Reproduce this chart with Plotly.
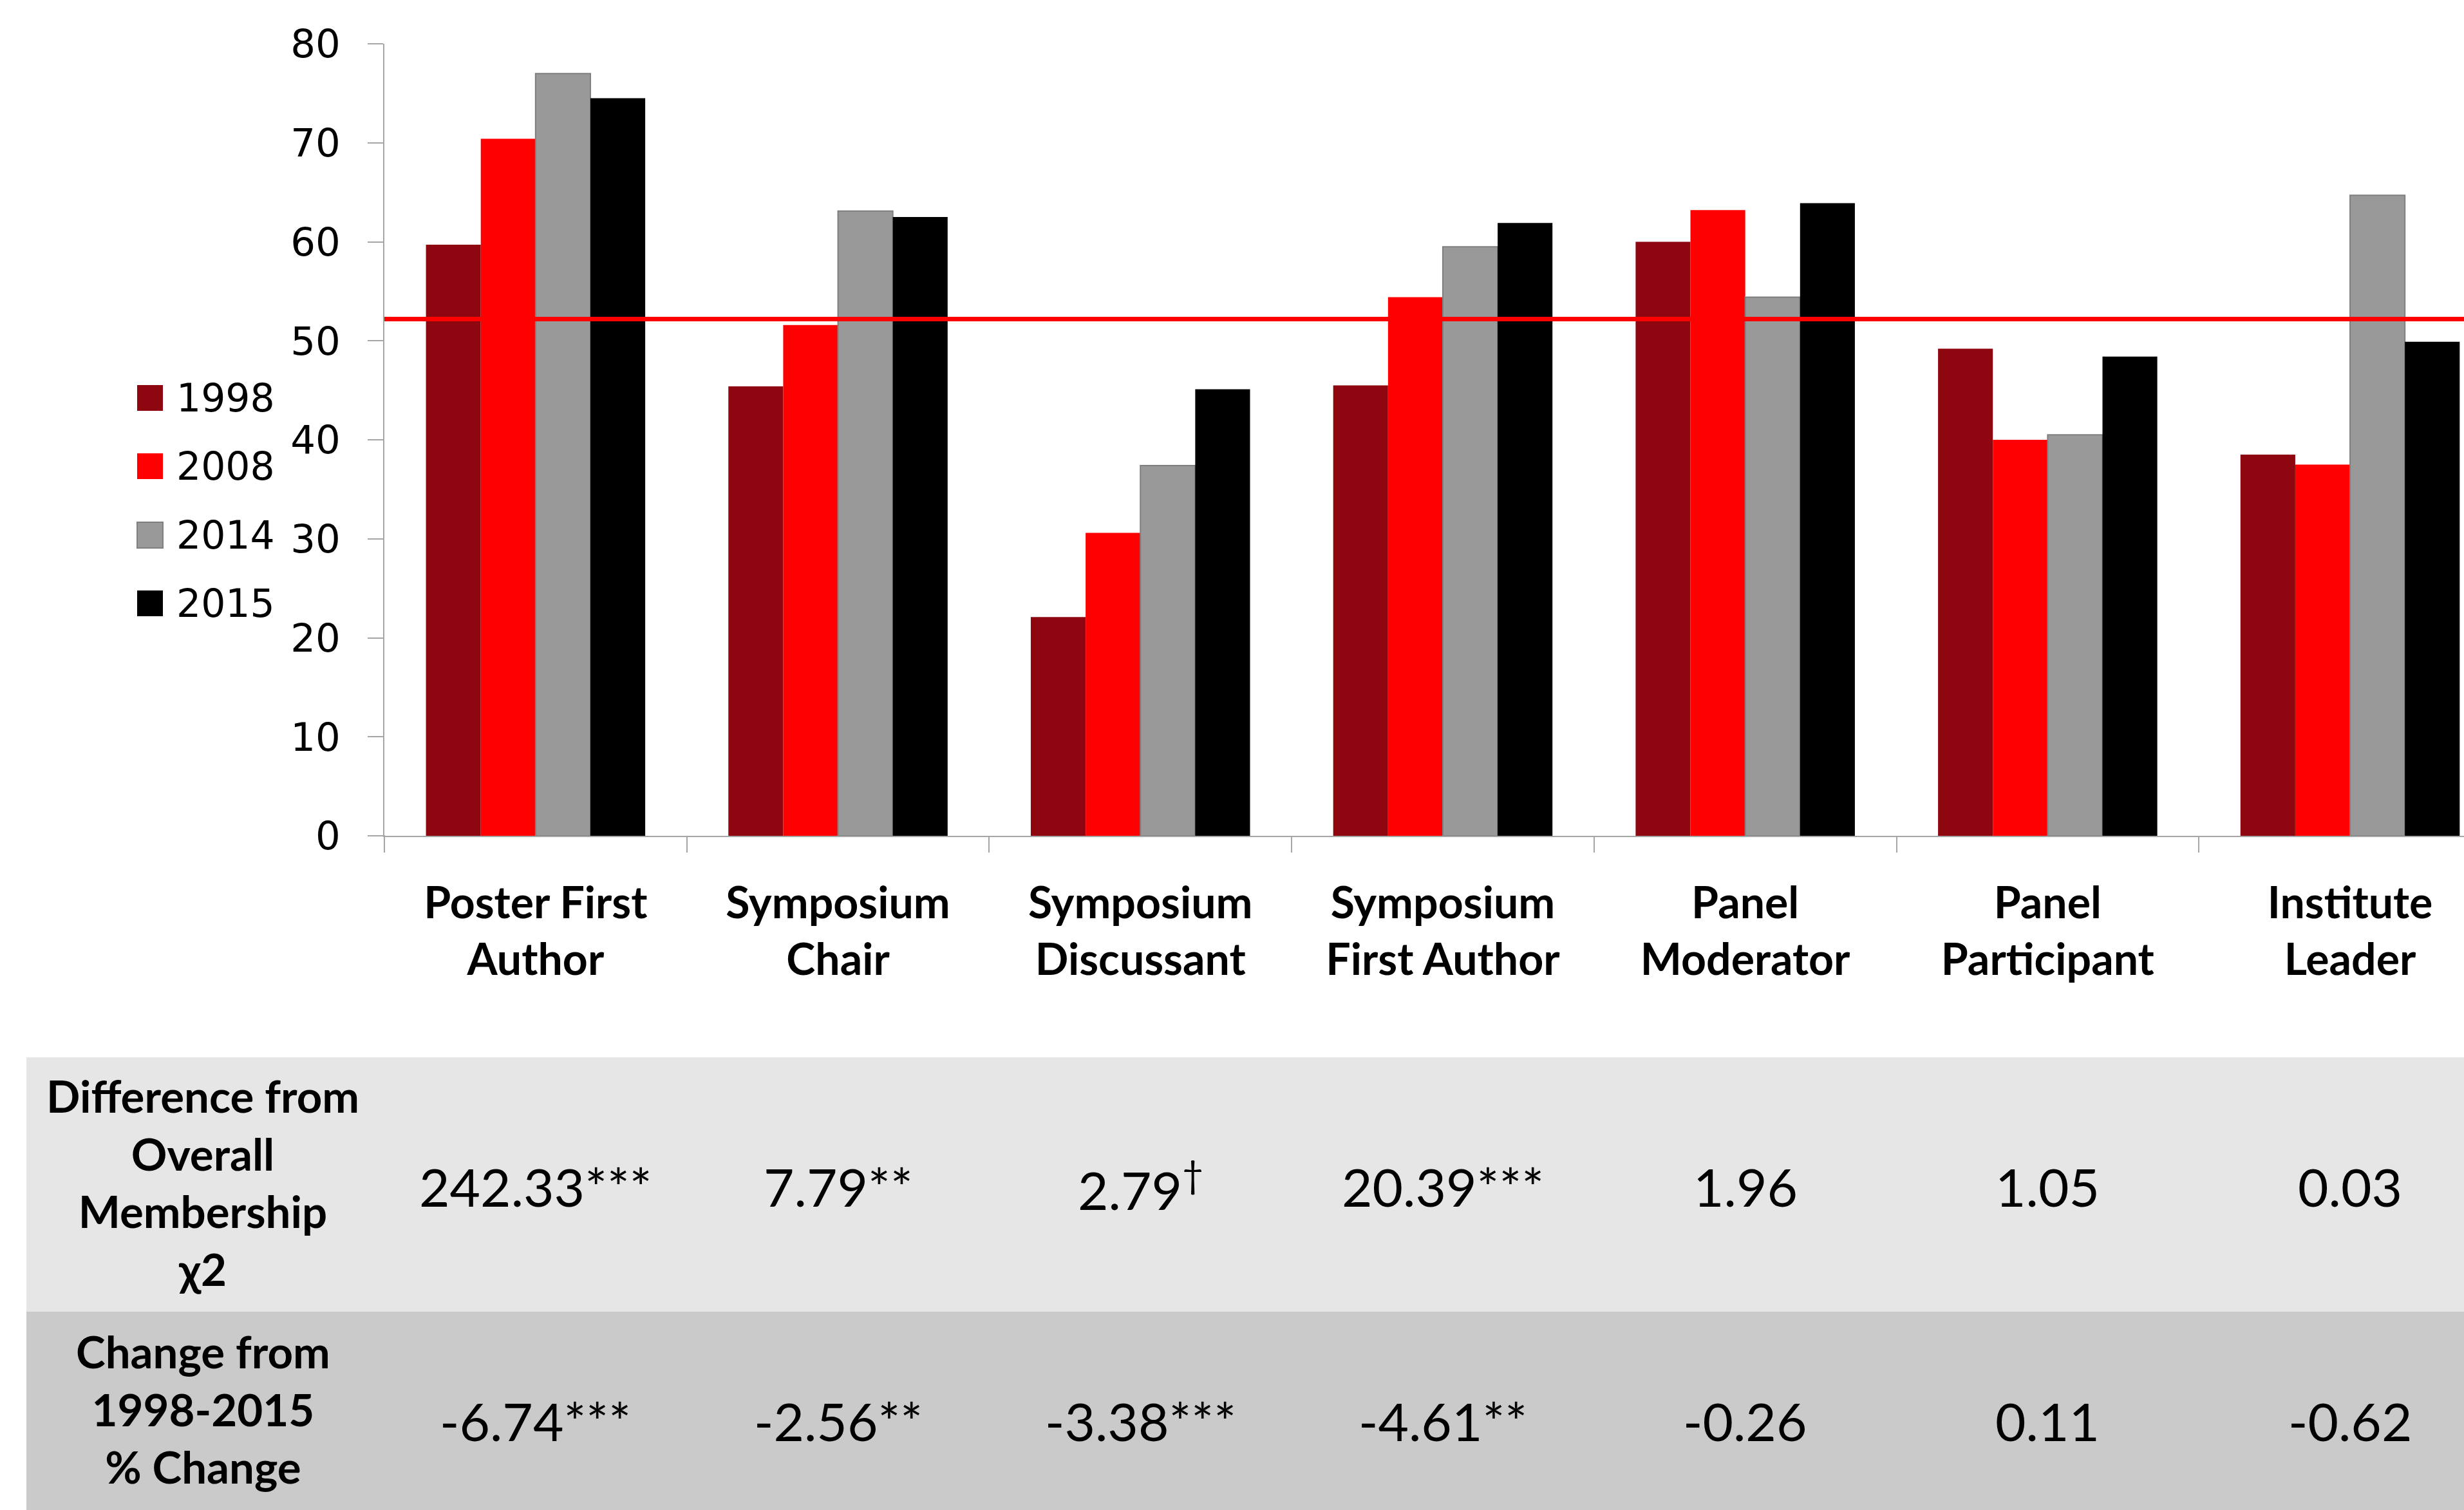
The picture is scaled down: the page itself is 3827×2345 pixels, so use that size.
import plotly.graph_objects as go

# ---------------- data ----------------
categories = [
    "Poster First<br>Author",
    "Symposium<br>Chair",
    "Symposium<br>Discussant",
    "Symposium<br>First Author",
    "Panel<br>Moderator",
    "Panel<br>Participant",
    "Institute<br>Leader",
]
years = ["1998", "2008", "2014", "2015"]
pct_1998 = [59.7, 45.4, 22.1, 45.5, 60.0, 49.2, 38.5]
pct_2008 = [70.4, 51.6, 30.6, 54.4, 63.2, 40.0, 37.5]
pct_2014 = [77.0, 63.1, 37.4, 59.5, 54.4, 40.5, 64.7]
pct_2015 = [74.5, 62.5, 45.1, 61.9, 63.9, 48.4, 49.9]
overall_membership = 52.2
y_ticks = [0, 10, 20, 30, 40, 50, 60, 70, 80]

row_headers = [
    "Difference from<br>Overall<br>Membership<br>χ2",
    "Change from<br>1998-2015<br>% Change",
]
chi2_labels = ["242.33***", "7.79**", "2.79<sup>†</sup>", "20.39***", "1.96", "1.05", "0.03"]
change_labels = ["-6.74***", "-2.56**", "-3.38***", "-4.61**", "-0.26", "0.11", "-0.62"]

# ---------------- styles ----------------
series = [pct_1998, pct_2008, pct_2014, pct_2015]
fill_colors = ["#8E0710", "#FF0000", "#999999", "#000000"]
line_colors = ["#8E0710", "#FF0000", "#7F7F7F", "#000000"]
line_widths = [0, 0, 2, 0]

W, H = 3827, 2345
L, T, R = 597, 68, 0
PLOT_BOTTOM = 1298
B = H - PLOT_BOTTOM
plot_w = W - L - R
plot_h = PLOT_BOTTOM - T
CAT_W = 469.7  # pixels per category


def px_x(p):
    return (p - L) / plot_w


def px_y(p):
    return (PLOT_BOTTOM - p) / plot_h


fig = go.Figure()
for name, vals, fc, lc, lw in zip(years, series, fill_colors, line_colors, line_widths):
    fig.add_trace(go.Bar(
        x=categories, y=vals, name=name,
        marker=dict(color=fc, line=dict(color=lc, width=lw)),
        showlegend=False,
    ))

shapes = []
annotations = []

# overall membership reference line
shapes.append(dict(type="line", xref="x domain", yref="y", x0=0, x1=1,
                   y0=overall_membership, y1=overall_membership,
                   line=dict(color="#FF0000", width=7), layer="above"))

# x axis line extension to the left (Excel style)
shapes.append(dict(type="line", xref="paper", yref="paper",
                   x0=px_x(574), x1=px_x(598), y0=0, y1=0,
                   line=dict(color="#A6A6A6", width=2)))

# manual legend
legend_centers = [618, 724, 831, 937]
for name, fc, lc, lw, cy in zip(years, fill_colors, line_colors, line_widths, legend_centers):
    shapes.append(dict(type="rect", xref="paper", yref="paper",
                       x0=px_x(213), x1=px_x(253), y0=px_y(cy + 20), y1=px_y(cy - 20),
                       fillcolor=fc, line=dict(color=lc, width=lw if lw else 0)))
    annotations.append(dict(text=name, xref="paper", yref="paper",
                            x=px_x(272), y=px_y(cy), xanchor="left", yanchor="middle",
                            showarrow=False,
                            font=dict(family="DejaVu Sans", size=60, color="#000000")))

# table bands
shapes.append(dict(type="rect", xref="paper", yref="paper", layer="below",
                   x0=px_x(41), x1=px_x(W + 5), y0=px_y(2037), y1=px_y(1642),
                   fillcolor="#E6E6E6", line=dict(width=0)))
shapes.append(dict(type="rect", xref="paper", yref="paper", layer="below",
                   x0=px_x(41), x1=px_x(W + 5), y0=px_y(H + 10), y1=px_y(2037),
                   fillcolor="#CACACA", line=dict(width=0)))

row_header_centers = [1836, 2188]
for hdr, cy in zip(row_headers, row_header_centers):
    annotations.append(dict(text=hdr, xref="paper", yref="paper",
                            x=px_x(315), y=px_y(cy), xanchor="center", yanchor="middle",
                            align="center", showarrow=False,
                            font=dict(family="Lato", size=69, color="#000000", weight="bold")))

row_value_centers = [1842, 2206]
for labels, cy in zip([chi2_labels, change_labels], row_value_centers):
    for cat, lab in zip(categories, labels):
        annotations.append(dict(text=lab, xref="x", yref="paper",
                                x=cat, y=px_y(cy), xanchor="center", yanchor="middle",
                                showarrow=False,
                                font=dict(family="Lato", size=82, color="#000000")))

x_end = -0.5 + plot_w / CAT_W

fig.update_layout(
    width=W, height=H,
    margin=dict(l=L, r=R, t=T, b=B, autoexpand=False),
    paper_bgcolor="white", plot_bgcolor="white",
    barmode="group", bargap=0.275, bargroupgap=0,
    shapes=shapes, annotations=annotations,
    showlegend=False,
)
fig.update_xaxes(
    type="category", range=[-0.5, x_end], automargin=False,
    showline=True, linecolor="#A6A6A6", linewidth=2,
    ticks="outside", tickson="boundaries", ticklen=24, tickcolor="#A6A6A6", tickwidth=2,
    tickfont=dict(family="Lato", size=68, color="#000000", weight="bold"),
    ticklabelstandoff=44,
    showgrid=False, zeroline=False,
)
fig.update_yaxes(
    range=[0, 80], tickvals=y_ticks, automargin=False,
    showline=True, linecolor="#A6A6A6", linewidth=2,
    ticks="outside", ticklen=24, tickcolor="#A6A6A6", tickwidth=2,
    tickfont=dict(family="DejaVu Sans", size=61, color="#000000"),
    ticklabelstandoff=30,
    showgrid=False, zeroline=False,
)

fig.write_html("out.html")
